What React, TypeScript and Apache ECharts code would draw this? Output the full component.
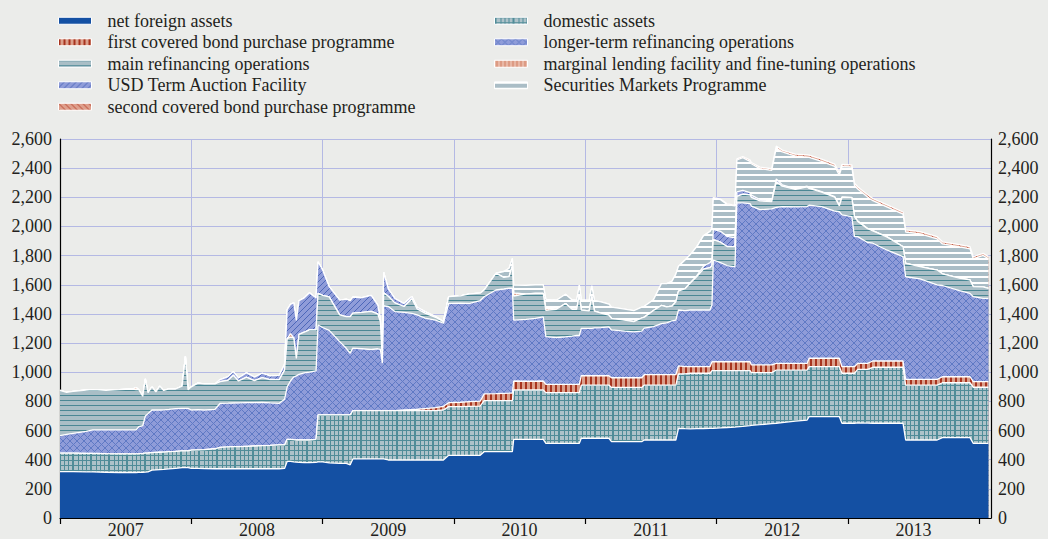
import React, { useEffect, useRef } from "react";
import * as echarts from "echarts";

// Fractional-year dates of the observations
const dates = [
  2007.000, 2007.050, 2007.100, 2007.200, 2007.250, 2007.350, 2007.450, 2007.550, 2007.580, 2007.600,
  2007.630, 2007.650, 2007.670, 2007.700, 2007.730, 2007.760, 2007.790, 2007.830, 2007.880, 2007.930,
  2007.955, 2007.975, 2008.000, 2008.050, 2008.100, 2008.180, 2008.220, 2008.280, 2008.320, 2008.360,
  2008.420, 2008.480, 2008.540, 2008.600, 2008.670, 2008.710, 2008.730, 2008.755, 2008.780, 2008.800,
  2008.820, 2008.860, 2008.900, 2008.950, 2008.965, 2009.000, 2009.050, 2009.130, 2009.180, 2009.210,
  2009.230, 2009.300, 2009.370, 2009.420, 2009.440, 2009.455, 2009.465, 2009.500, 2009.550, 2009.620,
  2009.680, 2009.720, 2009.780, 2009.860, 2009.920, 2009.960, 2010.050, 2010.120, 2010.200, 2010.230,
  2010.320, 2010.380, 2010.420, 2010.445, 2010.455, 2010.550, 2010.620, 2010.680, 2010.700, 2010.780,
  2010.850, 2010.900, 2010.935, 2010.955, 2010.970, 2011.030, 2011.050, 2011.070, 2011.120, 2011.180,
  2011.200, 2011.300, 2011.370, 2011.430, 2011.450, 2011.520, 2011.580, 2011.620, 2011.660, 2011.690,
  2011.710, 2011.760, 2011.800, 2011.850, 2011.900, 2011.950, 2011.965, 2011.975, 2012.030, 2012.080,
  2012.140, 2012.155, 2012.200, 2012.255, 2012.265, 2012.330, 2012.420, 2012.455, 2012.500, 2012.600,
  2012.690, 2012.705, 2012.800, 2012.900, 2012.935, 2012.955, 2013.030, 2013.050, 2013.075, 2013.150,
  2013.190, 2013.300, 2013.420, 2013.440, 2013.550, 2013.680, 2013.720, 2013.850, 2013.930, 2013.955,
  2014.030, 2014.070,
];

// EUR billions
const netForeignAssets = [
  318, 318, 318, 317, 316, 314, 312, 312, 312, 313,
  314, 315, 316, 328, 330, 332, 334, 337, 340, 345,
  345, 345, 340, 340, 339, 338, 338, 338, 338, 338,
  338, 338, 338, 338, 338, 340, 388, 388, 385, 383,
  382, 380, 380, 382, 385, 385, 378, 375, 375, 365,
  405, 405, 405, 405, 405, 405, 405, 398, 398, 398,
  398, 398, 398, 398, 398, 430, 430, 430, 430, 455,
  455, 455, 455, 455, 540, 540, 540, 540, 512, 512,
  512, 512, 512, 512, 547, 547, 547, 547, 547, 547,
  524, 524, 524, 524, 535, 535, 535, 535, 535, 535,
  615, 613, 612, 613, 614, 615, 615, 615, 618, 621,
  624, 625, 628, 633, 635, 640, 648, 650, 655, 665,
  672, 695, 695, 695, 695, 650, 650, 650, 652, 651,
  650, 650, 650, 535, 535, 535, 551, 551, 551, 512,
  512, 512,
];
const domesticAssets = [
  127, 127, 127, 126, 127, 127, 128, 128, 128, 128,
  129, 130, 130, 120, 120, 119, 118, 118, 117, 115,
  115, 115, 126, 128, 130, 137, 147, 150, 151, 152,
  154, 156, 158, 160, 163, 161, 152, 152, 152, 152,
  153, 155, 155, 158, 322, 322, 329, 332, 332, 342,
  331, 331, 331, 331, 331, 331, 331, 338, 338, 338,
  338, 338, 338, 339, 343, 334, 334, 336, 337, 350,
  350, 350, 350, 350, 338, 338, 338, 338, 348, 348,
  348, 348, 348, 348, 365, 365, 365, 365, 365, 365,
  372, 372, 372, 372, 377, 377, 377, 377, 377, 377,
  373, 376, 381, 380, 379, 378, 396, 396, 393, 390,
  387, 386, 383, 378, 362, 357, 349, 365, 360, 350,
  343, 343, 343, 343, 343, 343, 343, 343, 368, 369,
  384, 384, 384, 377, 377, 377, 377, 377, 377, 385,
  385, 385,
];
const firstCoveredBond = [
  0, 0, 0, 0, 0, 0, 0, 0, 0, 0,
  0, 0, 0, 0, 0, 0, 0, 0, 0, 0,
  0, 0, 0, 0, 0, 0, 0, 0, 0, 0,
  0, 0, 0, 0, 0, 0, 0, 0, 0, 0,
  0, 0, 0, 0, 0, 0, 0, 0, 0, 0,
  0, 0, 0, 0, 0, 0, 0, 0, 0, 5,
  8, 10, 15, 20, 25, 27, 30, 32, 35, 46,
  48, 50, 51, 52, 62, 60, 60, 62, 57, 57,
  57, 57, 57, 57, 64, 64, 64, 64, 64, 64,
  66, 66, 66, 66, 71, 71, 71, 71, 71, 71,
  55, 50, 45, 45, 45, 45, 61, 61, 61, 61,
  61, 61, 61, 61, 53, 53, 53, 46, 46, 46,
  46, 58, 58, 58, 58, 45, 45, 45, 41, 41,
  43, 43, 43, 39, 39, 39, 41, 41, 41, 38,
  38, 38,
];
const longerTermRefinancing = [
  120, 128, 136, 152, 161, 163, 164, 164, 164, 185,
  190, 255, 270, 293, 291, 290, 290, 290, 293, 292,
  292, 292, 275, 275, 272, 270, 302, 300, 300, 300,
  299, 298, 297, 292, 286, 313, 360, 400, 430, 440,
  450, 460, 465, 470, 617, 600, 580, 503, 457, 423,
  430, 425, 420, 425, 420, 327, 720, 715, 680, 670,
  660, 648, 620, 600, 570, 682, 680, 675, 690, 667,
  711, 716, 720, 720, 418, 425, 432, 440, 327, 320,
  325, 330, 335, 335, 325, 325, 325, 328, 330, 335,
  328, 320, 315, 320, 320, 330, 350, 355, 370, 375,
  384, 384, 389, 389, 389, 389, 389, 698, 680, 660,
  650, 1090, 1090, 1085, 1090, 1065, 1070, 1070, 1075, 1073,
  1075, 1050, 1040, 1010, 1005, 1041, 1030, 892, 869, 829,
  808, 760, 716, 704, 689, 649, 626, 591, 572, 583,
  572, 572,
];
const mainRefinancing = [
  310, 289, 287, 283, 276, 272, 276, 281, 276, 254,
  202, 255, 144, 159, 124, 164, 133, 140, 135, 153,
  358, 128, 159, 182, 179, 175, 148, 157, 190, 150,
  175, 150, 170, 160, 162, 200, 330, 300, 270, 120,
  275, 280, 290, 280, 217, 220, 230, 183, 217, 251,
  240, 250, 262, 240, 190, 10, 90, 70, 60, 40,
  100, 40, 35, 20, 11, 45, 50, 65, 50, 46,
  115, 80, 80, 149, 165, 175, 170, 160, 180, 195,
  230, 185, 180, 280, 125, 120, 220, 115, 100, 80,
  80, 75, 70, 90, 75, 110, 125, 110, 100, 125,
  130, 150, 185, 230, 280, 290, 270, 140, 140, 130,
  140, 45, 60, 60, 60, 60, 50, 175, 140, 120,
  135, 115, 100, 95, 40, 120, 130, 137, 105, 95,
  85, 90, 68, 92, 84, 101, 80, 85, 92, 69,
  79, 69,
];
const marginalLending = [
  0, 0, 0, 0, 0, 0, 0, 0, 15, 0,
  0, 0, 0, 0, 0, 0, 0, 0, 0, 0,
  0, 0, 0, 0, 0, 0, 0, 0, 0, 0,
  0, 0, 0, 0, 0, 0, 0, 25, 0, 0,
  0, 0, 0, 0, 0, 0, 0, 0, 0, 0,
  0, 0, 0, 0, 0, 0, 0, 0, 0, 0,
  0, 0, 0, 0, 0, 0, 0, 0, 0, 0,
  0, 0, 0, 0, 20, 0, 0, 0, 15, 0,
  0, 0, 0, 0, 0, 0, 0, 0, 0, 0,
  0, 0, 0, 0, 0, 0, 0, 0, 0, 0,
  0, 0, 0, 0, 0, 0, 0, 0, 0, 0,
  0, 0, 0, 0, 0, 0, 0, 0, 0, 0,
  0, 0, 0, 0, 0, 0, 0, 0, 0, 0,
  0, 0, 0, 0, 0, 0, 0, 0, 0, 0,
  0, 0,
];
const usdTermAuction = [
  0, 0, 0, 0, 0, 0, 0, 0, 0, 0,
  0, 0, 0, 0, 0, 0, 0, 0, 0, 0,
  0, 0, 0, 0, 0, 0, 15, 25, 25, 20,
  30, 25, 30, 25, 30, 40, 200, 200, 240, 260,
  230, 235, 255, 220, 217, 175, 70, 102, 120, 110,
  110, 100, 110, 60, 15, 5, 140, 50, 30, 20,
  15, 12, 10, 5, 0, 0, 0, 0, 0, 0,
  0, 0, 0, 0, 0, 0, 0, 0, 0, 0,
  0, 0, 0, 0, 0, 0, 0, 0, 0, 0,
  0, 0, 0, 0, 0, 0, 0, 0, 0, 0,
  0, 0, 0, 5, 20, 35, 40, 70, 75, 70,
  60, 30, 25, 15, 15, 10, 5, 20, 10, 5,
  5, 5, 3, 3, 3, 3, 2, 2, 2, 2,
  2, 1, 1, 1, 0, 0, 0, 0, 0, 0,
  0, 0,
];
const securitiesMarkets = [
  0, 0, 0, 0, 0, 0, 0, 0, 0, 0,
  0, 0, 0, 0, 0, 0, 0, 0, 0, 0,
  0, 0, 0, 0, 0, 0, 0, 0, 0, 0,
  0, 0, 0, 0, 0, 0, 0, 0, 0, 0,
  0, 0, 0, 0, 0, 0, 0, 0, 0, 0,
  0, 0, 0, 0, 0, 0, 0, 0, 0, 0,
  0, 0, 0, 0, 0, 0, 0, 0, 0, 0,
  0, 40, 57, 55, 55, 58, 60, 60, 61, 62,
  63, 64, 65, 66, 70, 71, 72, 72, 76, 77,
  77, 76, 75, 75, 74, 74, 150, 160, 170, 190,
  170, 197, 195, 200, 208, 213, 215, 215, 217, 218,
  219, 219, 225, 215, 215, 212, 210, 213, 225, 223,
  200, 208, 208, 208, 208, 208, 208, 212, 220, 215,
  205, 205, 222, 214, 225, 214, 205, 215, 213, 191,
  215, 202,
];
const secondCoveredBond = [
  0, 0, 0, 0, 0, 0, 0, 0, 0, 0,
  0, 0, 0, 0, 0, 0, 0, 0, 0, 0,
  0, 0, 0, 0, 0, 0, 0, 0, 0, 0,
  0, 0, 0, 0, 0, 0, 0, 0, 0, 0,
  0, 0, 0, 0, 0, 0, 0, 0, 0, 0,
  0, 0, 0, 0, 0, 0, 0, 0, 0, 0,
  0, 0, 0, 0, 0, 0, 0, 0, 0, 0,
  0, 0, 0, 0, 0, 0, 0, 0, 0, 0,
  0, 0, 0, 0, 0, 0, 0, 0, 0, 0,
  0, 0, 0, 0, 0, 0, 0, 0, 0, 0,
  0, 0, 0, 1, 2, 2, 3, 3, 4, 5,
  6, 7, 8, 9, 9, 10, 11, 12, 13, 14,
  15, 15, 15, 15, 15, 15, 15, 15, 15, 15,
  15, 15, 15, 15, 15, 15, 15, 15, 15, 15,
  15, 15,
];

const legendLeftNames = [
  "net foreign assets",
  "first covered bond purchase programme",
  "main refinancing operations",
  "USD Term Auction Facility",
  "second covered bond purchase programme",
];
const legendRightNames = [
  "domestic assets",
  "longer-term refinancing operations",
  "marginal lending facility and fine-tuning operations",
  "Securities Markets Programme",
];
const yearTicks = [2007, 2008, 2009, 2010, 2011, 2012, 2013, 2014];
const yearLabelPositions = [2007.5, 2008.5, 2009.5, 2010.5, 2011.5, 2012.5, 2013.5];
const gridYears = [2008, 2009, 2010, 2011, 2012, 2013];
const X_MIN = 2007;
const X_MAX = 2014.09;
const Y_MIN = 0;
const Y_MAX = 2600;
const Y_STEP = 200;

const FONT = "'Liberation Serif', 'Times New Roman', serif";
const TXT = "#231f20";
const BG = "#ebecea";
const GRID = "#b4b9e4";

function makePattern(w: number, h: number, bg: string, draw: (ctx: CanvasRenderingContext2D) => void) {
  const c = document.createElement("canvas");
  c.width = w;
  c.height = h;
  const ctx = c.getContext("2d") as CanvasRenderingContext2D;
  ctx.fillStyle = bg;
  ctx.fillRect(0, 0, w, h);
  draw(ctx);
  return { image: c, repeat: "repeat", imageWidth: w, imageHeight: h } as any;
}

function buildFills() {
  const nfa = "#1450a3";
  const da = makePattern(18, 5, "#adc2c9", (ctx) => {
    ctx.fillStyle = "#508c98";
    ctx.fillRect(0, 0, 18, 1);
    ctx.fillRect(0, 0, 2, 5);
    ctx.fillRect(6, 0, 1, 5);
    ctx.fillRect(10, 0, 1, 5);
    ctx.fillRect(14, 0, 1, 5);
  });
  const cb1 = makePattern(5, 4, "#dba08c", (ctx) => {
    ctx.fillStyle = "#a8341f";
    ctx.fillRect(0, 0, 2, 4);
  });
  const ltro = makePattern(7, 7, "#8f9cd9", (ctx) => {
    ctx.strokeStyle = "#5f79c4";
    ctx.lineWidth = 1;
    ctx.beginPath();
    ctx.moveTo(0, 0);
    ctx.lineTo(7, 7);
    ctx.moveTo(7, 0);
    ctx.lineTo(0, 7);
    ctx.stroke();
  });
  const mro = makePattern(4, 5, "#a9bec6", (ctx) => {
    ctx.fillStyle = "#4a8794";
    ctx.fillRect(0, 0, 4, 1);
  });
  const mlf = makePattern(4, 4, "#dd9b84", (ctx) => {
    ctx.fillStyle = "#f3d2c5";
    ctx.fillRect(0, 0, 1, 4);
  });
  const taf = makePattern(6, 6, "#8f9cd9", (ctx) => {
    ctx.strokeStyle = "#4d67b9";
    ctx.lineWidth = 1;
    ctx.beginPath();
    ctx.moveTo(-1, 7);
    ctx.lineTo(7, -1);
    ctx.moveTo(-1, 1);
    ctx.lineTo(1, -1);
    ctx.moveTo(5, 7);
    ctx.lineTo(7, 5);
    ctx.stroke();
  });
  const smp = makePattern(4, 6, "#aabdc6", (ctx) => {
    ctx.fillStyle = "#ffffff";
    ctx.fillRect(0, 0, 4, 2);
  });
  const cb2 = makePattern(6, 6, "#de9f8c", (ctx) => {
    ctx.strokeStyle = "#b8452f";
    ctx.lineWidth = 1;
    ctx.beginPath();
    ctx.moveTo(-1, -1);
    ctx.lineTo(7, 7);
    ctx.moveTo(5, -1);
    ctx.lineTo(7, 1);
    ctx.moveTo(-1, 5);
    ctx.lineTo(1, 7);
    ctx.stroke();
  });
  return { nfa, da, cb1, ltro, mro, mlf, taf, smp, cb2 };
}

function buildOption() {
  const f = buildFills();
  const defs = [
    { name: "net foreign assets", data: netForeignAssets, fill: f.nfa },
    { name: "domestic assets", data: domesticAssets, fill: f.da },
    { name: "first covered bond purchase programme", data: firstCoveredBond, fill: f.cb1 },
    { name: "longer-term refinancing operations", data: longerTermRefinancing, fill: f.ltro },
    { name: "main refinancing operations", data: mainRefinancing, fill: f.mro },
    { name: "marginal lending facility and fine-tuning operations", data: marginalLending, fill: f.mlf },
    { name: "USD Term Auction Facility", data: usdTermAuction, fill: f.taf },
    { name: "Securities Markets Programme", data: securitiesMarkets, fill: f.smp },
    { name: "second covered bond purchase programme", data: secondCoveredBond, fill: f.cb2 },
  ];
  const fillByName: Record<string, any> = {};
  defs.forEach((d) => (fillByName[d.name] = d.fill));

  // running totals: each layer is drawn from 0 up to its cumulative top,
  // lower layers drawn above higher ones -> stacked look
  const running = dates.map(() => 0);
  const series: any[] = defs.map((d, i) => {
    const pts = dates.map((t, j) => {
      running[j] += d.data[j];
      return [t, running[j]];
    });
    return {
      type: "line",
      name: d.name,
      data: pts,
      showSymbol: false,
      symbol: "none",
      silent: true,
      z: 30 - i,
      lineStyle: { color: "#ffffff", width: 1.3 },
      areaStyle: { color: d.fill, opacity: 1, origin: "start" },
      itemStyle: { color: d.fill },
      emphasis: { disabled: true },
    };
  });
  series.push({
    type: "line",
    name: "grid",
    data: [[X_MIN, 0]],
    symbol: "none",
    showSymbol: false,
    silent: true,
    z: 1,
    lineStyle: { opacity: 0 },
    markLine: {
      silent: true,
      z: 1,
      symbol: ["none", "none"],
      label: { show: false },
      lineStyle: { color: GRID, type: "solid", width: 1 },
      data: gridYears.map((y) => ({ xAxis: y })),
    },
  });

  const legendCommon = {
    orient: "vertical",
    top: 10,
    padding: 0,
    itemWidth: 33,
    itemHeight: 7,
    itemGap: 0,
    icon: "rect",
    selectedMode: false,
    textStyle: {
      fontFamily: FONT,
      fontSize: 18,
      color: TXT,
      lineHeight: 21.5,
      padding: [0, 0, 0, 11],
    },
  };
  const legendItem = (n: string) => ({
    name: n,
    icon: "rect",
    itemStyle: { color: fillByName[n], borderColor: "#ffffff", borderWidth: 1 },
  });

  const yLabel = {
    fontFamily: FONT,
    fontSize: 18,
    color: TXT,
    formatter: (v: number) => v.toLocaleString("en-US"),
  };

  return {
    animation: false,
    backgroundColor: BG,
    textStyle: { fontFamily: FONT },
    grid: {
      left: 60,
      width: 931,
      top: 139,
      height: 379,
      containLabel: false,
      outerBoundsMode: "none",
    },
    legend: [
      { ...legendCommon, left: 58, data: legendLeftNames.map(legendItem) },
      { ...legendCommon, left: 494, data: legendRightNames.map(legendItem) },
    ],
    xAxis: {
      type: "value",
      min: X_MIN,
      max: X_MAX,
      axisLine: { show: true, onZero: false, lineStyle: { color: "#000", width: 1.2 } },
      axisTick: {
        show: true,
        length: 6,
        lineStyle: { color: "#000", width: 1.2 },
        customValues: yearTicks,
      },
      axisLabel: {
        customValues: yearLabelPositions,
        formatter: (v: number) => String(Math.floor(v)),
        fontFamily: FONT,
        fontSize: 18,
        lineHeight: 18,
        color: TXT,
        margin: 3,
      },
      splitLine: { show: false },
    },
    yAxis: [
      {
        type: "value",
        position: "left",
        min: Y_MIN,
        max: Y_MAX,
        interval: Y_STEP,
        axisLine: { show: true, lineStyle: { color: "#000", width: 1.2 } },
        axisTick: { show: false },
        axisLabel: { ...yLabel, margin: 8 },
        splitLine: { show: true, lineStyle: { color: GRID, width: 1 } },
      },
      {
        type: "value",
        position: "right",
        min: Y_MIN,
        max: Y_MAX,
        interval: Y_STEP,
        axisLine: { show: true, lineStyle: { color: "#000", width: 1.2 } },
        axisTick: { show: false },
        axisLabel: { ...yLabel, margin: 7 },
        splitLine: { show: false },
      },
    ],
    series,
  };
}

export default function App() {
  const ref = useRef<HTMLDivElement>(null);
  useEffect(() => {
    if (!ref.current) return;
    const chart = echarts.init(ref.current, undefined, { renderer: "svg" });
    chart.setOption(buildOption() as any);
    return () => chart.dispose();
  }, []);
  return (
    <div
      ref={ref}
      style={{ position: "fixed", left: 0, top: 0, width: 1048, height: 539 }}
    />
  );
}
